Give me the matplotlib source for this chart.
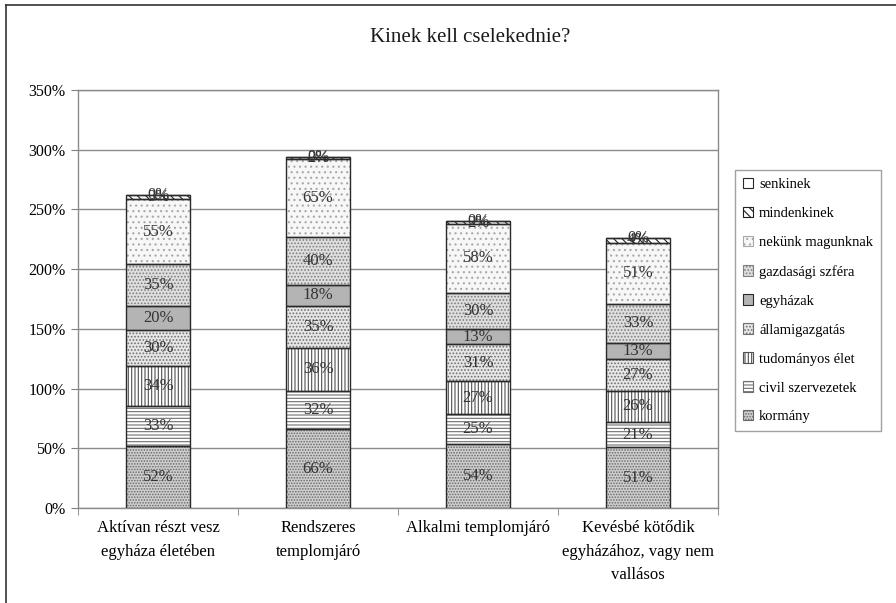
import matplotlib
matplotlib.use("Agg")
import matplotlib.pyplot as plt
from matplotlib.patches import Patch
from matplotlib.lines import Line2D
import numpy as np

plt.rcParams['font.family'] = ['Liberation Serif', 'DejaVu Serif']
plt.rcParams['hatch.linewidth'] = 0.8

title = "Kinek kell cselekednie?"
categories = [
    "Aktívan részt vesz\negyháza életében",
    "Rendszeres\ntemplomjáró",
    "Alkalmi templomjáró",
    "Kevésbé kötődik\negyházához, vagy nem\nvallásos",
]
series_names = [
    "kormány",
    "civil szervezetek",
    "tudományos élet",
    "államigazgatás",
    "egyházak",
    "gazdasági szféra",
    "nekünk magunknak",
    "mindenkinek",
    "senkinek",
]
kormany = [52, 66, 54, 51]
civil = [33, 32, 25, 21]
tudomanyos = [34, 36, 27, 26]
allamigazgatas = [30, 35, 31, 27]
egyhazak = [20, 18, 13, 13]
gazdasagi = [35, 40, 30, 33]
nekunk = [55, 65, 58, 51]
mindenkinek = [3, 2, 2, 4]
senkinek = [0, 0, 0, 0]
y_ticks = [0, 50, 100, 150, 200, 250, 300, 350]

series_values = [kormany, civil, tudomanyos, allamigazgatas, egyhazak,
                 gazdasagi, nekunk, mindenkinek, senkinek]

# fill colour, hatch pattern, hatch colour
styles = [
    ("#cfcfcf", "......", "#6a6a6a"),   # kormány
    ("#ffffff", "-----", "#707070"),    # civil szervezetek
    ("#ffffff", "|||||", "#505050"),    # tudományos élet
    ("#e6e6e6", ".....", "#707070"),    # államigazgatás
    ("#b4b4b4", None, None),            # egyházak
    ("#dedede", ".....", "#808080"),    # gazdasági szféra
    ("#f7f7f7", "...", "#a8a8a8"),      # nekünk magunknak
    ("#ffffff", "\\\\\\\\", "#202020"), # mindenkinek
    ("#ffffff", None, None),            # senkinek
]

fig = plt.figure(figsize=(8.96, 6.03), dpi=100)
ax = fig.add_axes([78 / 896, 1 - 508 / 603, (718 - 78) / 896, (508 - 90) / 603])

x = np.arange(len(categories))
width = 0.4
bottom = np.zeros(len(categories))
handles = []
for name, vals, (fc, hatch, hc) in zip(series_names, series_values, styles):
    vals = np.array(vals, dtype=float)
    if hatch:
        ax.bar(x, vals, width, bottom=bottom, color=fc, hatch=hatch,
               edgecolor=hc, linewidth=0, zorder=3)
    else:
        ax.bar(x, vals, width, bottom=bottom, color=fc, linewidth=0, zorder=3)
    ax.bar(x, vals, width, bottom=bottom, fill=False, edgecolor="#2a2a2a",
           linewidth=1.0, zorder=4)
    for xi, b, v in zip(x, bottom, vals):
        ax.text(xi, b + v / 2, f"{int(v)}%", ha="center", va="center",
                fontsize=12, color="#333333", zorder=6)
    bottom += vals
    handles.append(Patch(facecolor=fc, hatch=hatch,
                         edgecolor=hc if hatch else "#2a2a2a",
                         linewidth=0.8, label=name))

ax.set_ylim(0, 350)
ax.set_xlim(-0.5, len(categories) - 0.5)
ax.set_yticks(y_ticks)
ax.set_yticklabels([f"{t}%" for t in y_ticks], fontsize=11.5)
ax.yaxis.grid(True, color="#8a8a8a", linewidth=1.0, zorder=0)
ax.set_axisbelow(True)

ax.set_xticks(x)
ax.set_xticklabels(categories, fontsize=12, linespacing=1.6)
ax.set_xticks(np.arange(-0.5, len(categories)), minor=True)
ax.tick_params(axis="x", which="major", length=0, pad=9)
ax.tick_params(axis="x", which="minor", length=5, color="#808080", direction="out")
ax.tick_params(axis="y", length=5, color="#808080", direction="out", pad=4)
for s in ax.spines.values():
    s.set_color("#8a8a8a")
    s.set_linewidth(1.0)

fig.text(470 / 896, 1 - 38 / 603, title, ha="center", va="center",
         fontsize=15, color="#1a1a1a")

# legend, topmost series first
leg = fig.legend(handles[::-1], series_names[::-1], loc="upper left",
                 bbox_to_anchor=(735 / 896, 1 - 170 / 603), fontsize=10.5,
                 frameon=True, fancybox=False, edgecolor="#8a8a8a",
                 handlelength=0.7, handleheight=0.7, handletextpad=0.4,
                 labelspacing=1.08, borderpad=0.55, borderaxespad=0)
leg.get_frame().set_linewidth(1.0)

# outer frame lines
fig.add_artist(Line2D([6 / 896, 6 / 896], [0, 1 - 5 / 603], transform=fig.transFigure,
                      color="#333333", linewidth=1.2))
fig.add_artist(Line2D([6 / 896, 1], [1 - 5 / 603, 1 - 5 / 603], transform=fig.transFigure,
                      color="#333333", linewidth=1.2))

fig.savefig("out.png", dpi=100)
